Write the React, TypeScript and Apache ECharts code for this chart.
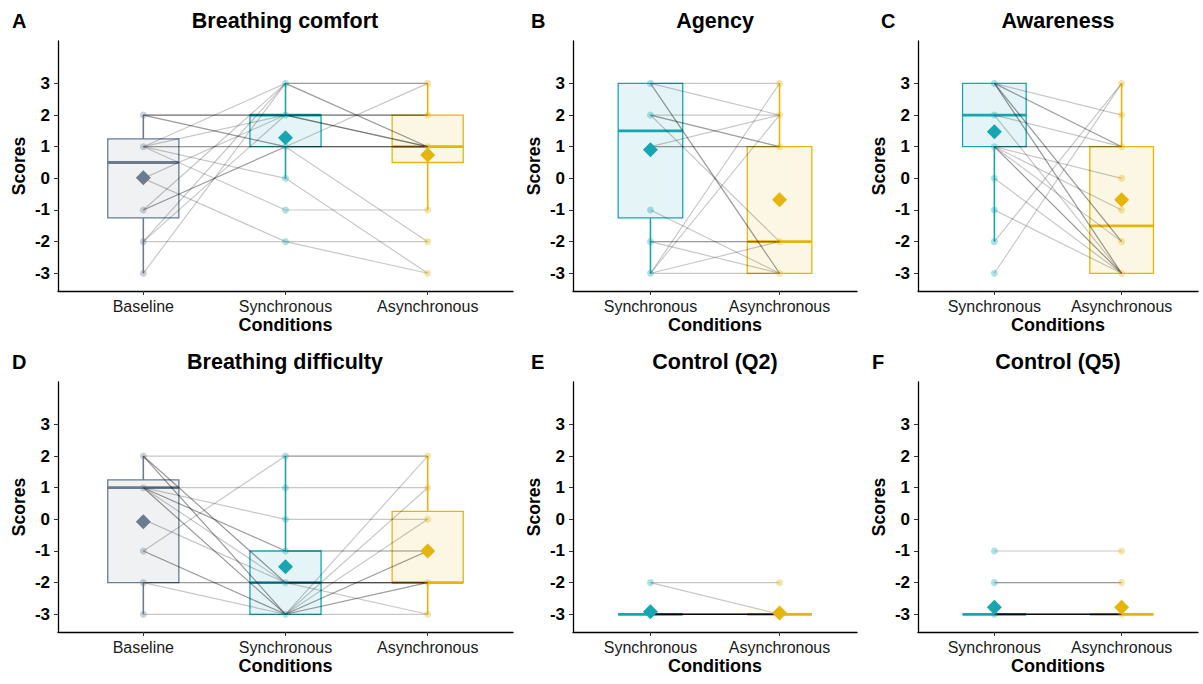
import React, { useEffect, useRef } from "react";
import * as echarts from "echarts";

const FONT = "'Liberation Sans', Arial, sans-serif";
const scoreTicks = [-3, -2, -1, 0, 1, 2, 3];
const threeConds = ["Baseline", "Synchronous", "Asynchronous"];
const twoConds = ["Synchronous", "Asynchronous"];

// box stats: [min, q1, median, q3, max]
// Panel A – Breathing comfort: [baseline, synchronous, asynchronous]
const aParticipants = [
  [2, 2, 2], [2, 2, 2], [2, 2, 1], [2, 1, 1], [2, 1, -2],
  [1, 1, 1], [1, 1, 1], [1, 3, 3], [1, -1, -1], [1, 0, -3], [1, 2, 2],
  [0, 2, 1], [0, -2, -3],
  [-1, 1, 1], [-1, 1, 3], [-1, 3, 1],
  [-2, 2, 1], [-2, 3, 3], [-2, -2, -2],
  [-3, 3, 1],
];
const aBoxes = [[-3, -1.25, 0.5, 1.25, 2], [0, 1, 2, 2, 3], [-1, 0.5, 1, 2, 3]];
const aMeans = [0.02, 1.28, 0.74];

// Panel B – Agency: [synchronous, asynchronous]
const bParticipants = [
  [3, -3], [3, -3], [3, 3], [3, 2],
  [2, 1], [2, 1], [2, 2], [2, -2],
  [1, 1], [1, 1], [1, 2],
  [-1, -3],
  [-2, -2], [-2, -2], [-2, -3],
  [-3, 3], [-3, -2], [-3, -3], [-3, 2],
];
const bBoxes = [[-3, -1.25, 1.5, 3, 3], [-3, -3, -2, 1, 3]];
const bMeans = [0.9, -0.68];

// Panel C – Awareness
const cParticipants = [
  [3, 2], [3, 1], [3, 1], [3, -2], [3, -2], [3, -3], [3, -3],
  [2, 1], [2, -3],
  [1, 1], [1, 1], [1, -1], [1, -3], [1, -3], [1, 0], [1, -2],
  [0, -3], [-1, -3], [-2, 3], [-3, 3],
];
const cBoxes = [[-2, 1, 2, 3, 3], [-3, -3, -1.5, 1, 3]];
const cMeans = [1.47, -0.68];

// Panel D – Breathing difficulty
const dParticipants = [
  [2, 2, 2], [2, -2, -2], [2, -3, 1], [2, -3, -1], [2, -2, -3],
  [1, 1, 1], [1, -1, -1], [1, -1, -1], [1, -2, -2], [1, -3, 2], [1, 0, 0], [1, -3, -2],
  [0, -2, -2],
  [-1, 2, 2], [-1, -3, 0], [-1, -3, -2],
  [-2, -2, -2], [-2, -2, -2], [-2, -3, -1],
  [-3, -3, -3],
];
const dBoxes = [[-3, -2, 1, 1.25, 2], [-3, -3, -2, -1, 2], [-3, -2, -2, 0.25, 2]];
const dMeans = [-0.08, -1.5, -1.0];

// Panel E – Control (Q2)
const eParticipants = [
  [-2, -2], [-2, -3],
  [-3, -3], [-3, -3], [-3, -3], [-3, -3], [-3, -3], [-3, -3], [-3, -3],
  [-3, -3], [-3, -3], [-3, -3], [-3, -3], [-3, -3], [-3, -3],
];
const eBoxes = [[-3, -3, -3, -3, -3], [-3, -3, -3, -3, -3]];
const eMeans = [-2.92, -2.96];

// Panel F – Control (Q5)
const fParticipants = [
  [-1, -1], [-2, -2], [-2, -2],
  [-3, -3], [-3, -3], [-3, -3], [-3, -3], [-3, -3], [-3, -3],
  [-3, -3], [-3, -3], [-3, -3], [-3, -3], [-3, -3], [-3, -3],
];
const fBoxes = [[-3, -3, -3, -3, -3], [-3, -3, -3, -3, -3]];
const fMeans = [-2.78, -2.78];

const condColor: Record<string, string> = {
  Baseline: "#6b7c8e",
  Synchronous: "#16a6b2",
  Asynchronous: "#e5b50c",
};
const condFill: Record<string, string> = {
  Baseline: "rgba(107,124,142,0.11)",
  Synchronous: "rgba(22,166,178,0.11)",
  Asynchronous: "rgba(229,181,12,0.11)",
};

const panels = [
  { letter: "A", title: "Breathing comfort", conds: threeConds, parts: aParticipants, boxes: aBoxes, means: aMeans,
    left: 58, top: 41, width: 455, letterX: 12, titleX: 285, titleY: 21 },
  { letter: "B", title: "Agency", conds: twoConds, parts: bParticipants, boxes: bBoxes, means: bMeans,
    left: 573, top: 41, width: 284, letterX: 531, titleX: 715, titleY: 21 },
  { letter: "C", title: "Awareness", conds: twoConds, parts: cParticipants, boxes: cBoxes, means: cMeans,
    left: 918, top: 41, width: 280, letterX: 881, titleX: 1058, titleY: 21 },
  { letter: "D", title: "Breathing difficulty", conds: threeConds, parts: dParticipants, boxes: dBoxes, means: dMeans,
    left: 58, top: 382, width: 455, letterX: 12, titleX: 285, titleY: 362 },
  { letter: "E", title: "Control (Q2)", conds: twoConds, parts: eParticipants, boxes: eBoxes, means: eMeans,
    left: 573, top: 382, width: 284, letterX: 531, titleX: 715, titleY: 362 },
  { letter: "F", title: "Control (Q5)", conds: twoConds, parts: fParticipants, boxes: fBoxes, means: fMeans,
    left: 918, top: 382, width: 280, letterX: 872, titleX: 1058, titleY: 362 },
];

function buildOption() {
  const grid: any[] = [];
  const xAxis: any[] = [];
  const yAxis: any[] = [];
  const series: any[] = [];
  const graphic: any[] = [];

  panels.forEach((p, i) => {
    const n = p.conds.length;
    const xs = p.conds.map((_, j) => j + 1);
    grid.push({ left: p.left, top: p.top, width: p.width, height: 250 });
    xAxis.push({
      gridIndex: i, type: "value", min: 0.4, max: n + 0.6,
      axisLine: { show: true, onZero: false, lineStyle: { color: "#000", width: 1.3 } },
      axisTick: { show: true, customValues: xs, length: 4, lineStyle: { color: "#333" } },
      axisLabel: {
        customValues: xs, formatter: (v: number) => p.conds[Math.round(v) - 1] || "",
        fontSize: 16, color: "#1a1a1a", margin: 7, fontFamily: FONT,
      },
      splitLine: { show: false },
      name: "Conditions", nameLocation: "middle", nameGap: 25,
      nameTextStyle: { fontSize: 18, fontWeight: "bold", color: "#000", fontFamily: FONT },
    });
    yAxis.push({
      gridIndex: i, type: "value", min: -3.56, max: 4.34,
      axisLine: { show: true, onZero: false, lineStyle: { color: "#000", width: 1.3 } },
      axisTick: { show: true, customValues: scoreTicks, length: 4, lineStyle: { color: "#333" } },
      axisLabel: { customValues: scoreTicks, fontSize: 17, fontWeight: "bold", color: "#000", margin: 8, fontFamily: FONT },
      splitLine: { show: false },
      name: "Scores", nameLocation: "middle", nameGap: 30, nameRotate: 90,
      nameTextStyle: { fontSize: 17.5, fontWeight: "bold", color: "#000", fontFamily: FONT },
    });

    // boxes
    series.push({
      type: "custom", xAxisIndex: i, yAxisIndex: i, z: 1, silent: true,
      data: p.boxes.map((b, j) => [j + 1, ...b]),
      encode: { x: 0, y: [1, 2, 3, 4, 5] },
      renderItem: (params: any, api: any) => {
        const col = condColor[p.conds[params.dataIndex]];
        const fill = condFill[p.conds[params.dataIndex]];
        const x = api.value(0);
        const half = api.size([0.5, 0])[0] / 2;
        const [cx, yMin] = api.coord([x, api.value(1)]);
        const yQ1 = api.coord([x, api.value(2)])[1];
        const yMed = api.coord([x, api.value(3)])[1];
        const yQ3 = api.coord([x, api.value(4)])[1];
        const yMax = api.coord([x, api.value(5)])[1];
        return {
          type: "group",
          children: [
            { type: "line", shape: { x1: cx, y1: yMin, x2: cx, y2: yQ1 }, style: { stroke: col, lineWidth: 1.6 } },
            { type: "line", shape: { x1: cx, y1: yQ3, x2: cx, y2: yMax }, style: { stroke: col, lineWidth: 1.6 } },
            { type: "rect", shape: { x: cx - half, y: yQ3, width: 2 * half, height: yQ1 - yQ3 },
              style: { fill, stroke: col, lineWidth: 1.3 } },
            { type: "line", shape: { x1: cx - half, y1: yMed, x2: cx + half, y2: yMed }, style: { stroke: col, lineWidth: 2.8 } },
          ],
        };
      },
    });

    // participant lines
    p.parts.forEach((vals) => {
      series.push({
        type: "line", xAxisIndex: i, yAxisIndex: i, z: 2, silent: true,
        symbol: "none", showSymbol: false, clip: false,
        data: vals.map((v, j) => [j + 1, v]),
        lineStyle: { color: "rgba(0,0,0,0.22)", width: 1.2 },
      });
    });

    // individual points
    const pts: any[] = [];
    p.conds.forEach((c, j) => {
      const uniq = Array.from(new Set(p.parts.map((v) => v[j])));
      uniq.forEach((v) => pts.push({ value: [j + 1, v], itemStyle: { color: condColor[c] } }));
    });
    series.push({
      type: "scatter", xAxisIndex: i, yAxisIndex: i, z: 3, silent: true,
      symbolSize: 7, data: pts, itemStyle: { opacity: 0.35 },
    });

    // means
    series.push({
      type: "scatter", xAxisIndex: i, yAxisIndex: i, z: 5, silent: true,
      symbol: "diamond", symbolSize: 15,
      data: p.means.map((m, j) => ({ value: [j + 1, m], itemStyle: { color: condColor[p.conds[j]], opacity: 1 } })),
    });

    graphic.push({
      type: "text", x: p.letterX, y: p.titleY,
      style: { text: p.letter, fontSize: 20, fontWeight: "bold", fill: "#000", fontFamily: FONT, align: "left", verticalAlign: "middle" },
    });
    graphic.push({
      type: "text", x: p.titleX, y: p.titleY,
      style: { text: p.title, fontSize: 21.5, fontWeight: "bold", fill: "#000", fontFamily: FONT, align: "center", verticalAlign: "middle" },
    });
  });

  return { animation: false, backgroundColor: "#fff", grid, xAxis, yAxis, series, graphic };
}

export default function App() {
  const ref = useRef<HTMLDivElement>(null);
  useEffect(() => {
    if (!ref.current) return;
    const chart = echarts.init(ref.current, undefined, { renderer: "svg" });
    chart.setOption(buildOption() as any);
    return () => chart.dispose();
  }, []);
  return <div ref={ref} style={{ position: "absolute", left: 0, top: 0, width: 1203, height: 684 }} />;
}
